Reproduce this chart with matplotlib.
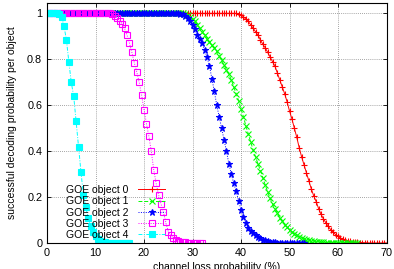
import numpy as np
import matplotlib
matplotlib.use('Agg')
import matplotlib.pyplot as plt

plt.rcParams['font.family'] = ['Liberation Sans', 'DejaVu Sans']

# ============================
# DATOS
# ============================

step = 0.5  # paso en % de pérdida

# GOE object 4 (cian), de 0 a 17 %
obj4 = [1, 1, 1, 1, 1, 0.998, 0.985, 0.945, 0.885, 0.79, 0.70, 0.64, 0.53, 0.42,
        0.31, 0.21, 0.155, 0.11, 0.075, 0.048, 0.03, 0.018, 0.01, 0.006, 0.003,
        0.002, 0.001, 0, 0, 0, 0, 0, 0, 0, 0]

# GOE object 3 (magenta), de 0 a 32 %
obj3 = [1] * 27 + [0.997, 0.99, 0.98, 0.965, 0.955, 0.935, 0.905, 0.87, 0.83,
                   0.785, 0.745, 0.70, 0.645, 0.58, 0.52, 0.465, 0.40, 0.32, 0.26,
                   0.21, 0.17, 0.135, 0.09, 0.05, 0.033, 0.022, 0.014, 0.009,
                   0.006, 0.004, 0.003, 0.002, 0.001, 0, 0, 0, 0, 0]

# GOE object 2 (azul), de 0 a 52.5 %
obj2 = [1] * 55 + [0.998, 0.995, 0.99, 0.98, 0.965, 0.95, 0.93, 0.905, 0.89,
                   0.87, 0.84, 0.81, 0.77, 0.716, 0.66, 0.60, 0.55, 0.50, 0.45,
                   0.40, 0.345, 0.30, 0.26, 0.225, 0.185, 0.145, 0.115, 0.085,
                   0.065, 0.052, 0.043, 0.035, 0.027, 0.02, 0.015, 0.011, 0.008,
                   0.006, 0.004, 0.003, 0.002, 0.002, 0.001, 0.001,
                   0, 0, 0, 0, 0, 0, 0, 0]

# GOE object 1 (verde), de 0 a 64 %
obj1 = [1] * 57 + [0.998, 0.993, 0.985, 0.975, 0.965, 0.95, 0.935, 0.92, 0.905,
                   0.89, 0.875, 0.86, 0.85, 0.835, 0.815, 0.795, 0.775, 0.755,
                   0.735, 0.71, 0.68, 0.65, 0.62, 0.585, 0.55, 0.51, 0.475, 0.44,
                   0.405, 0.375, 0.345, 0.315, 0.285, 0.252, 0.222, 0.195, 0.17,
                   0.15, 0.13, 0.11, 0.095, 0.08, 0.068, 0.057, 0.048, 0.04,
                   0.033, 0.027, 0.022, 0.018, 0.015, 0.012, 0.01, 0.008, 0.006,
                   0.005, 0.004, 0.003, 0.002, 0.002, 0.001, 0.001,
                   0, 0, 0, 0, 0, 0, 0, 0, 0, 0]

# GOE object 0 (rojo), de 0 a 70 %
obj0 = [1] * 79 + [0.998, 0.993, 0.985, 0.975, 0.965, 0.95, 0.935, 0.92, 0.905,
                   0.885, 0.865, 0.85, 0.83, 0.81, 0.79, 0.77, 0.74, 0.71, 0.68,
                   0.65, 0.615, 0.575, 0.54, 0.50, 0.46, 0.415, 0.375, 0.34,
                   0.305, 0.27, 0.235, 0.205, 0.18, 0.15, 0.125, 0.105, 0.088,
                   0.072, 0.058, 0.047, 0.037, 0.029, 0.022, 0.017, 0.013, 0.01,
                   0.008, 0.006, 0.004, 0.003, 0.002, 0.002, 0.001, 0.001,
                   0, 0, 0, 0, 0, 0, 0, 0]

labels = ["GOE object 0", "GOE object 1", "GOE object 2", "GOE object 3", "GOE object 4"]
series = [obj0, obj1, obj2, obj3, obj4]
colors = ['#ff0000', '#00ff00', '#0000ff', '#ff00ff', '#00ffff']
styles = ['-', (0, (4, 2)), (0, (1, 1.5)), (0, (1, 1.5)), (0, (4, 1.5, 1, 1.5))]
markers = ['+', 'x', '*', 's', 's']
fills = [True, True, True, False, True]
msizes = [5, 4.5, 5, 4.8, 3.8]

# ============================
# GRÁFICO
# ============================

fig = plt.figure(figsize=(3.94, 2.69), dpi=100)
ax = fig.add_axes([47 / 394, 1 - 243 / 269, 339.5 / 394, 240 / 269])

for lab, ys, c, ls, m, f, ms in zip(labels, series, colors, styles, markers, fills, msizes):
    xs = np.arange(len(ys)) * step
    ax.plot(xs, ys, color=c, linestyle=ls, linewidth=0.7, marker=m,
            markersize=ms, markeredgewidth=0.8,
            markerfacecolor=c if f else 'none', markeredgecolor=c, label=lab)

ax.set_xlim(0, 70)
ax.set_ylim(0, 1.045)
ax.set_xticks(np.arange(0, 71, 10))
ax.set_yticks([0, 0.2, 0.4, 0.6, 0.8, 1])
ax.set_yticklabels(['0', '0.2', '0.4', '0.6', '0.8', '1'])
ax.tick_params(direction='in', top=True, right=True, labelsize=7.8, length=3, width=0.6)
ax.grid(True, color='#888888', linestyle=(0, (1, 1.5)), linewidth=0.6)
for s in ax.spines.values():
    s.set_linewidth(0.8)

ax.set_xlabel("channel loss probability (%)", fontsize=7.5, labelpad=3)
ax.set_ylabel("successful decoding probability per object", fontsize=7.5, labelpad=7)

leg = ax.legend(loc='lower right', bbox_to_anchor=(0.37, -0.018), frameon=False,
                markerfirst=False, fontsize=7.5, handlelength=2.6, handletextpad=0.9,
                labelspacing=0.12, borderpad=0.2)

fig.savefig("out.png", dpi=100)
